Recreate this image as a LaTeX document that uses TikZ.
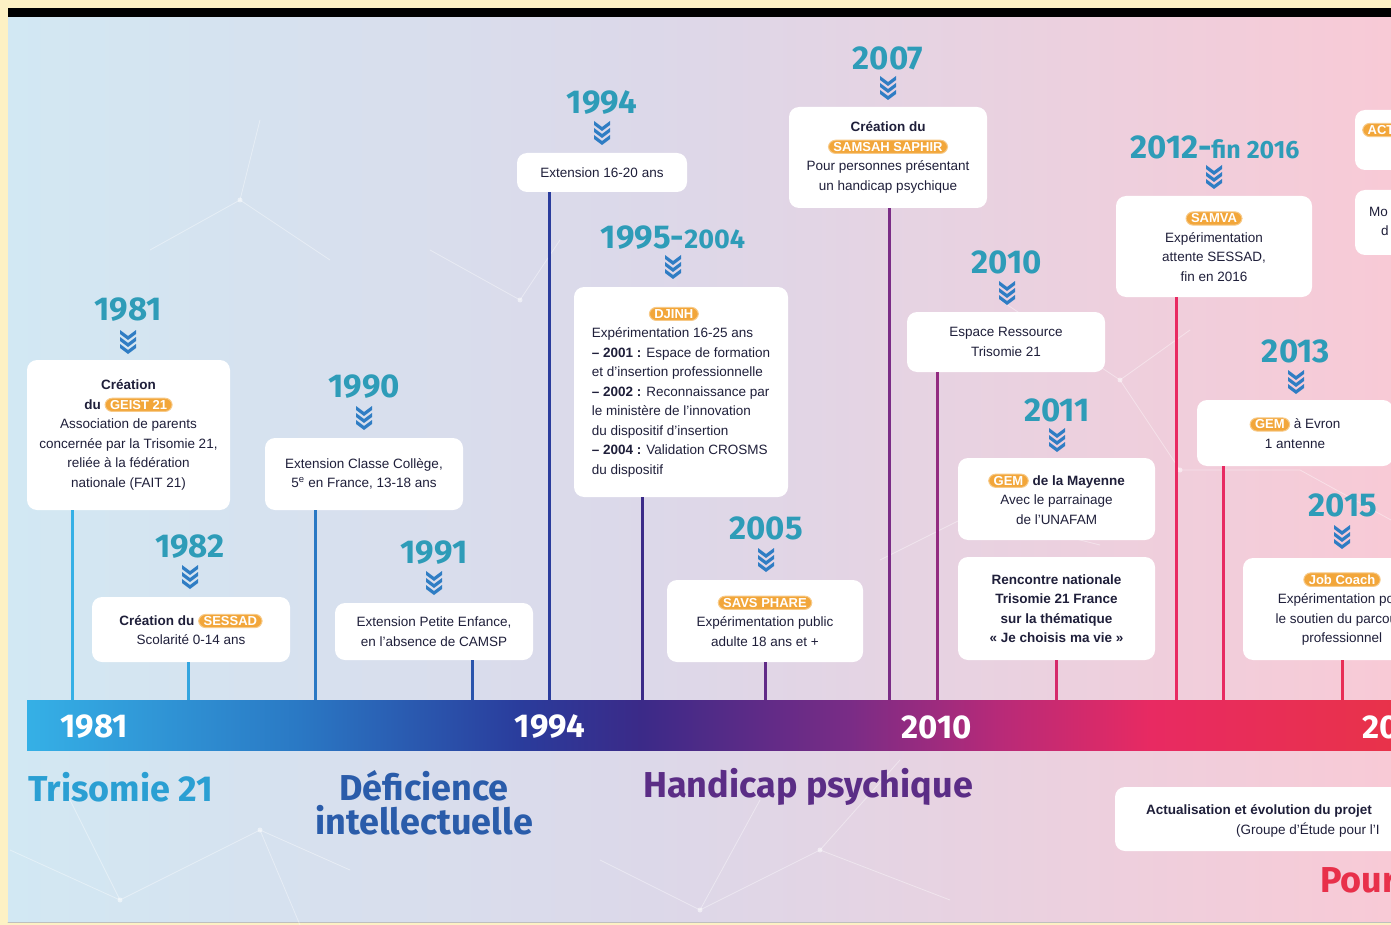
\documentclass[tikz,border=0pt]{standalone}
\usepackage{fontspec}
\setmainfont{Liberation Sans}
\newfontfamily\headfont{Fira Sans}
\definecolor{cream}{HTML}{FDF1C4}
\definecolor{bgL}{HTML}{D2E8F3}
\definecolor{bgM}{HTML}{DCD8E9}
\definecolor{bgR}{HTML}{F8CAD6}
\definecolor{yearteal}{HTML}{2E9CB8}
\definecolor{chevblue}{HTML}{2F7DC4}
\definecolor{boxtxt}{HTML}{1F1F3A}
\definecolor{badgeor}{HTML}{F2A63A}
\definecolor{barA}{HTML}{35B0E6}
\definecolor{barB}{HTML}{2A78C4}
\definecolor{barC}{HTML}{2A3C9C}
\definecolor{barD}{HTML}{3B2A88}
\definecolor{barE}{HTML}{7A2C86}
\definecolor{barF}{HTML}{B82A78}
\definecolor{barG}{HTML}{E82A62}
\definecolor{barH}{HTML}{E8324A}
\definecolor{trisocol}{HTML}{2A9FD3}
\definecolor{deficol}{HTML}{2A5CAA}
\definecolor{psychcol}{HTML}{5B2D86}
\definecolor{pourcol}{HTML}{E8304A}
\tikzset{badge/.style={fill=badgeor,draw=badgeor!60!white,line width=1pt,rounded corners=7pt,
		minimum width=0pt,minimum height=0pt,text=white,font=\bfseries\fontsize{13}{13}\selectfont,
		inner xsep=5pt,inner ysep=2pt}}
\newcommand{\badge}[1]{\tikz[baseline=(bdg.base)]\node[badge](bdg){#1};}
\begin{document}
\begin{tikzpicture}[x=1pt,y=-1pt,line join=round,line cap=round]
	\tikzset{
		evbox/.style={fill=white,rounded corners=10pt,align=center,inner sep=0pt,text=boxtxt,
			font=\fontsize{13.5}{19.5}\selectfont},
		yr/.style={font=\headfont\bfseries\fontsize{33}{33}\selectfont,text=yearteal,inner sep=0pt},
		stem/.style={line width=3pt,line cap=butt},
		barlbl/.style={font=\headfont\bfseries\fontsize{33}{33}\selectfont,text=white,inner sep=0pt},
		cat/.style={font=\headfont\bfseries\fontsize{36}{34}\selectfont,inner sep=0pt,align=center},
		net/.style={white,opacity=.4,line width=.8pt},
		chev/.pic={\foreach \k in {0,7,14}
			\fill[chevblue] (-8,\k) -- (0,\k+6) -- (8,\k) -- (8,\k+4) -- (0,\k+10) -- (-8,\k+4) -- cycle;}
	}
	\useasboundingbox (0,0) rectangle (1391,925);
	\clip (0,0) rectangle (1391,925);
	\fill[cream] (0,0) rectangle (1391,925);
	\fill[black] (8,8) rectangle (1391,18);
	\shade[left color=bgL,right color=bgM] (8,18) rectangle (651,922);
	\shade[left color=bgM,right color=bgR] (650,18) rectangle (1391,922);
	\draw[black!25,line width=1pt] (8,922.5) -- (1391,922.5);
	\draw[net] (10,850)--(120,900)--(260,830)--(300,925) (120,900)--(60,780) (260,830)--(350,870)
	(600,860)--(700,910)--(820,850)--(950,900) (700,910)--(760,800) (820,850)--(900,760)
	(1000,300)--(1120,380)--(1190,330) (1120,380)--(1180,470) (880,560)--(960,520)
	(1300,470)--(1391,520) (1180,470)--(1300,470) (430,250)--(520,300)--(560,240)
	(150,250)--(240,200)--(330,260) (240,200)--(260,120) (1000,520)--(1100,545);
	\foreach \p in {(120,900),(260,830),(700,910),(820,850),(1120,380),(1180,470),(520,300),(240,200)}
	\fill[white,opacity=.5] \p circle (2.5);
	% timeline bar
	\coordinate (s81) at (72,700);
	\coordinate (s82) at (188,700);
	\coordinate (s90) at (315,700);
	\coordinate (s91) at (472,700);
	\coordinate (s94) at (549,700);
	\coordinate (s95) at (642,700);
	\coordinate (s05) at (765,700);
	\coordinate (s07) at (889,700);
	\coordinate (s10) at (937,700);
	\coordinate (s11) at (1056,700);
	\coordinate (s12) at (1176,700);
	\coordinate (s13) at (1223,700);
	\coordinate (s15) at (1342,700);
	\shade[left color=barA,right color=barB] (27,700) rectangle (301,750);
	\shade[left color=barB,right color=barC] (300,700) rectangle (521,750);
	\shade[left color=barC,right color=barD] (520,700) rectangle (641,750);
	\shade[left color=barD,right color=barE] (640,700) rectangle (851,750);
	\shade[left color=barE,right color=barF] (850,700) rectangle (1001,750);
	\shade[left color=barF,right color=barG] (1000,700) rectangle (1151,750);
	\shade[left color=barG,right color=barH] (1150,700) rectangle (1391,750);
	\node[barlbl] (t81) at (94,727) {1981};
	\node[barlbl] (t94) at (550,727) {1994};
	\node[barlbl] (t10) at (937,727) {2010};
	\node[barlbl,anchor=west] (t16) at (1362,727) {20};
	% events
	\node[yr] (y81) at (128,310) {1981};
	\pic at (128,330) {chev};
	\node[evbox,minimum width=203,minimum height=150] (b81) at (128.5,435)
	{\textbf{Création}\\\textbf{du} \badge{GEIST 21}\\Association de parents\\concernée par la Trisomie 21,\\reliée à la fédération\\nationale (FAIT 21)};
	\node[yr] (y82) at (190,547) {1982};
	\pic at (190,565) {chev};
	\node[evbox,minimum width=198,minimum height=65] (b82) at (191,629.5)
	{\textbf{Création du} \badge{SESSAD}\\Scolarité 0-14 ans};
	\node[yr] (y90) at (364,387) {1990};
	\pic at (364,406) {chev};
	\node[evbox,minimum width=198,minimum height=72] (b90) at (364,474)
	{Extension Classe Collège,\\5\textsuperscript{e} en France, 13-18 ans};
	\node[yr] (y91) at (434,553) {1991};
	\pic at (434,571) {chev};
	\node[evbox,minimum width=198,minimum height=57] (b91) at (434,631.5)
	{Extension Petite Enfance,\\en l'absence de CAMSP};
	\node[yr] (y94) at (602,103) {1994};
	\pic at (602,121) {chev};
	\node[evbox,minimum width=170,minimum height=39] (b94) at (602,172.5) {Extension 16-20 ans};
	\node[yr] (y95) at (673,238) {1995-{\fontsize{27}{27}\selectfont 2004}};
	\pic at (673,255) {chev};
	\node[evbox,align=left,minimum width=214,minimum height=210] (b95) at (681,392)
	{\hspace*{57pt}\badge{DJINH}\\Expérimentation 16-25 ans\\\textbf{– 2001 :} Espace de formation\\et d'insertion professionnelle\\
		\textbf{– 2002 :} Reconnaissance par\\le ministère de l'innovation\\du dispositif d'insertion\\\textbf{– 2004 :} Validation CROSMS\\du dispositif};
	\node[yr] (y05) at (766,528) {2005};
	\pic at (766,548) {chev};
	\node[evbox,minimum width=196,minimum height=82] (b05) at (765,621)
	{\badge{SAVS PHARE}\\Expérimentation public\\adulte 18 ans et +};
	\node[yr] (y07) at (888,58) {2007};
	\pic at (888,76) {chev};
	\node[evbox,minimum width=198,minimum height=101] (b07) at (888,157.5)
	{\textbf{Création du}\\\badge{SAMSAH SAPHIR}\\Pour personnes présentant\\un handicap psychique};
	\node[yr] (y10) at (1007,262) {2010};
	\pic at (1007,281) {chev};
	\node[evbox,minimum width=198,minimum height=60] (b10) at (1006,342) {Espace Ressource\\Trisomie 21};
	\node[yr] (y11) at (1057,410) {2011};
	\pic at (1057,428) {chev};
	\node[evbox,minimum width=197,minimum height=82] (b11a) at (1056.5,499)
	{\badge{GEM} \textbf{de la Mayenne}\\Avec le parrainage\\de l'UNAFAM};
	\node[evbox,minimum width=197,minimum height=103,font=\bfseries\fontsize{13.5}{19.5}\selectfont] (b11b) at (1056.5,608.5)
	{Rencontre nationale\\Trisomie 21 France\\sur la thématique\\«~Je choisis ma vie~»};
	\node[yr] (y12) at (1215,147) {2012-{\fontsize{25}{25}\selectfont fin 2016}};
	\pic at (1214,165) {chev};
	\node[evbox,minimum width=196,minimum height=101] (b12) at (1214,246.5)
	{\badge{SAMVA}\\Expérimentation\\attente SESSAD,\\fin en 2016};
	\node[yr] (y13) at (1296,351) {2013};
	\pic at (1296,370) {chev};
	\node[evbox,minimum width=196,minimum height=66] (b13) at (1295,433) {\badge{GEM} à Evron\\1 antenne};
	\node[yr] (y15) at (1343,505) {2015};
	\pic at (1342,525) {chev};
	\node[evbox,minimum width=198,minimum height=102] (b15) at (1342,609)
	{\badge{Job Coach}\\Expérimentation pour\\le soutien du parcours\\professionnel};
	\node[evbox,minimum width=95,minimum height=60] (bR1) at (1402.5,140) {};
	\node[anchor=west,inner sep=0pt] (bR1t) at (1362,130) {\badge{ACT}};
	\node[evbox,minimum width=95,minimum height=65] (bR2) at (1402.5,222.5) {};
	\node[anchor=west,inner sep=0pt,text=boxtxt,font=\fontsize{13.5}{19.5}\selectfont] (bR2a) at (1369,212) {Mo};
	\node[anchor=west,inner sep=0pt,text=boxtxt,font=\fontsize{13.5}{19.5}\selectfont] (bR2b) at (1381,231) {d};
	% stems
	\draw[stem,color=barA] (b81.south -| s81) -- (s81);
	\draw[stem,color=barA!80!barB] (b82.south -| s82) -- (s82);
	\draw[stem,color=barB] (b90.south -| s90) -- (s90);
	\draw[stem,color=barB!40!barC] (b91.south -| s91) -- (s91);
	\draw[stem,color=barC] (b94.south -| s94) -- (s94);
	\draw[stem,color=barD] (b95.south -| s95) -- (s95);
	\draw[stem,color=barD!40!barE] (b05.south -| s05) -- (s05);
	\draw[stem,color=barE] (b07.south -| s07) -- (s07);
	\draw[stem,color=barE!60!barF] (b10.south -| s10) -- (s10);
	\draw[stem,color=barF!40!barG] (b11b.south -| s11) -- (s11);
	\draw[stem,color=barG] (b12.south -| s12) -- (s12);
	\draw[stem,color=barG] (b13.south -| s13) -- (s13);
	\draw[stem,color=barG!50!barH] (b15.south -| s15) -- (s15);
	% themes
	\node[cat,text=trisocol,anchor=west] (ctri) at (28,787) {Trisomie 21};
	\node[cat,text=deficol] (cdef) at (424,803) {Déficience\\intellectuelle};
	\node[cat,text=psychcol] (cpsy) at (808,787) {Handicap psychique};
	\node[evbox,minimum width=300,minimum height=64] (bact) at (1265,819) {};
	\node[anchor=west,inner sep=0pt,text=boxtxt,font=\bfseries\fontsize{13.5}{19.5}\selectfont] (bact1) at (1146,811)
	{Actualisation et évolution du projet};
	\node[anchor=west,inner sep=0pt,text=boxtxt,font=\fontsize{13.5}{19.5}\selectfont] (bact2) at (1236,830)
	{(Groupe d'Étude pour l'I};
	\node[cat,text=pourcol,anchor=west] (cpour) at (1320,880) {Pour};
\end{tikzpicture}
\end{document}
